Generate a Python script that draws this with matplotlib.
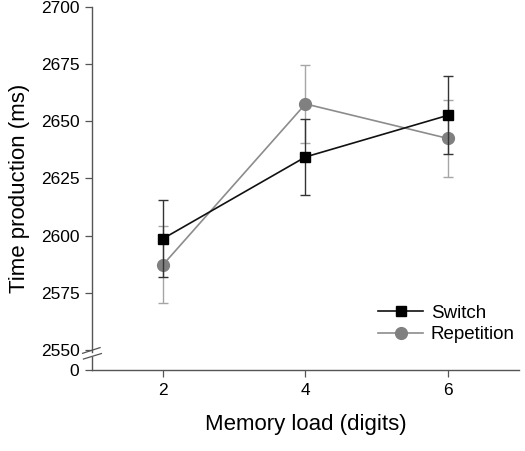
import numpy as np
import matplotlib
matplotlib.use('Agg')
import matplotlib.pyplot as plt
import matplotlib.transforms as mtransforms
from matplotlib.lines import Line2D

plt.rcParams['font.family'] = ['Liberation Sans', 'DejaVu Sans']

loads = [2, 4, 6]
switch_mean = [2598.7, 2634.4, 2652.6]
switch_err = [16.8, 16.8, 17.0]
rep_mean = [2587.3, 2657.6, 2642.5]
rep_err = [17.0, 17.0, 17.0]

y_ticks = [2550, 2575, 2600, 2625, 2650, 2675, 2700]
zero_pos = 2541.2  # where the broken axis shows 0

fig = plt.figure(figsize=(5.25, 4.51), dpi=100)
ax = fig.add_axes([0.1752, 0.1796, 0.8134, 0.8049])

rep_style = dict(color='#8c8c8c', marker='o', markersize=8.5,
                 markerfacecolor='#808080', markeredgecolor='#808080', lw=1.2)
sw_style = dict(color='#111111', marker='s', markersize=7.5,
                markerfacecolor='black', markeredgecolor='black', lw=1.2)

ax.errorbar(loads, rep_mean, yerr=rep_err, ecolor='#a6a6a6',
            elinewidth=1.0, capsize=3.5, capthick=1.0, zorder=2, **rep_style)
ax.errorbar(loads, switch_mean, yerr=switch_err, ecolor='#333333',
            elinewidth=1.0, capsize=3.5, capthick=1.0, zorder=3, **sw_style)

ax.set_xlim(1, 7)
ax.set_ylim(zero_pos, 2700)
ax.set_xticks(loads)
ax.set_yticks([zero_pos] + y_ticks)
ax.set_yticklabels(['0'] + [str(t) for t in y_ticks])
ax.tick_params(axis='both', labelsize=12.5, direction='out', length=5, width=0.9,
               color='#555555', pad=4)

for s in ['top', 'right']:
    ax.spines[s].set_visible(False)
for s in ['left', 'bottom']:
    ax.spines[s].set_color('#555555')
    ax.spines[s].set_linewidth(1.0)

# broken y axis
ax.spines['left'].set_bounds(2549.2, 2700)
trans = mtransforms.blended_transform_factory(ax.transAxes, ax.transData)
ax.plot([0, 0], [zero_pos, 2546.8], color='#555555', lw=1.0, transform=trans, clip_on=False)
ax.plot([-0.022, 0.019], [2548.5, 2551.0], color='#555555', lw=0.9, transform=trans, clip_on=False)
ax.plot([-0.020, 0.022], [2546.0, 2548.4], color='#555555', lw=0.9, transform=trans, clip_on=False)

ax.set_xlabel('Memory load (digits)', fontsize=16, labelpad=12)
ax.set_ylabel('Time production (ms)', fontsize=16, labelpad=8)

handles = [Line2D([], [], **sw_style), Line2D([], [], **rep_style)]
ax.legend(handles, ['Switch', 'Repetition'], loc='lower right', frameon=False, fontsize=13.5,
          handlelength=2.4, handletextpad=0.4, labelspacing=0.25,
          bbox_to_anchor=(1.03, 0.027))

fig.savefig('out.png', dpi=100)
